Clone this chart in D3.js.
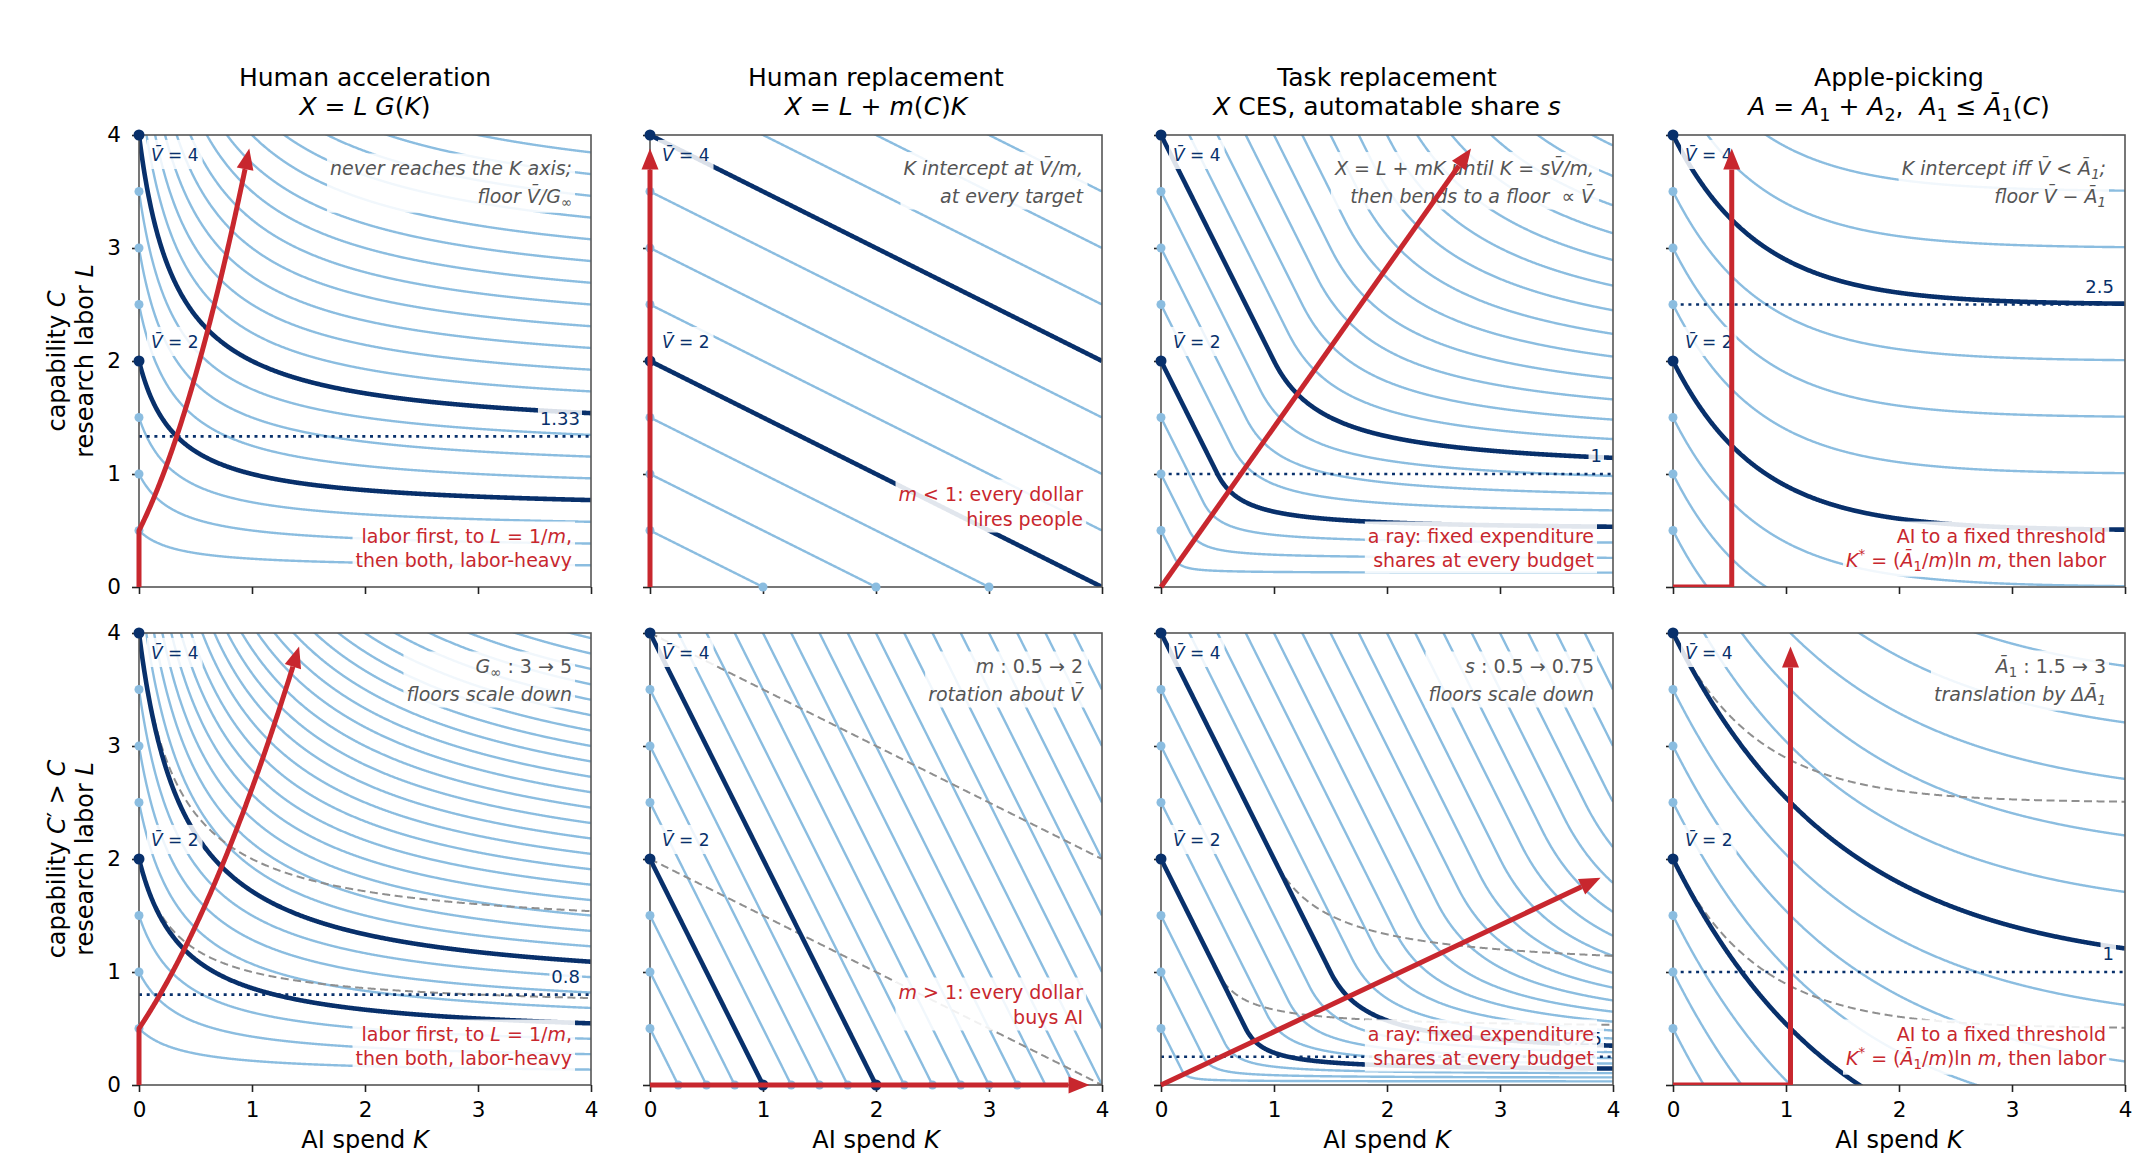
<!DOCTYPE html>
<html><head><meta charset="utf-8">
<script src="https://cdn.jsdelivr.net/npm/d3@7"></script>
<style>body{margin:0;background:#fff} text{font-family:"DejaVu Sans",sans-serif; white-space:pre}</style>
</head><body><svg id="fig" width="2142" height="1173"></svg>
<script>
// ---------------- data ----------------
const kTicks = [0, 1, 2, 3, 4];
const lTicks = [0, 1, 2, 3, 4];
const levels = [0.5,1,1.5,2,2.5,3,3.5,4,4.5,5,5.5,6,6.5,7,7.5,8,8.5,9,9.5,10,10.5,11,11.5,12,12.5,13,13.5,14,14.5,15,15.5,16];
const highlighted = [2, 4];
const axisDots = [0.5, 1, 1.5, 2, 2.5, 3, 3.5, 4];
// row 0 = capability C, row 1 = capability C' > C
const accelGinf = [3, 5];
const accelM = 2;
const replaceM = [0.5, 2];
const replaceKDots = [[1, 2, 3], [0.25,0.5,0.75,1,1.25,1.5,1.75,2,2.25,2.5,2.75,3,3.25]];
const taskS = [0.5, 0.75];
const taskM = 2;
const appleA1 = [1.5, 3];
const appleM = 2;
const floorValues = [[4/3, null, 1, 2.5], [0.8, null, 0.25, 1]];
const floorText = [["1.33", null, "1", "2.5"], ["0.8", null, "0.25", "1"]];
const arrowTipL = 3.88;
const arrowTipK = 3.89;

const VB = 'V\u0304', AB = '\u0100';
const panelTitles = ["Human acceleration", "Human replacement", "Task replacement", "Apple-picking"];
const panelFormulas = [
  [['X','i'],' = ',['L','i'],' ',['G','i'],'(',['K','i'],')'],
  [['X','i'],' = ',['L','i'],' + ',['m','i'],'(',['C','i'],')',['K','i']],
  [['X','i'],' CES, automatable share ',['s','i']],
  [['A','i'],' = ',['A','i'],['1','b'],' + ',['A','i'],['2','b'],',  ',['A','i'],['1','b'],' ≤ ',[AB,'i'],['1','b'],'(',['C','i'],')']
];
const yLabels = [
  [["capability ", ['C','i']], ["research labor ", ['L','i']]],
  [["capability ", ['C','i'], "′ > ", ['C','i']], ["research labor ", ['L','i']]]
];
const xLabel = ["AI spend ", ['K','i']];
const grayNotes = [
  [
    [["never reaches the K axis;"], ["floor " + VB + "/G", ['∞','b']]],
    [["K intercept at " + VB + "/m,"], ["at every target"]],
    [["X = L + mK until K = s" + VB + "/m,"], ["then bends to a floor  ∝ " + VB]],
    [["K intercept iff " + VB + " < " + AB, ['1','b'], ";"], ["floor " + VB + " − " + AB, ['1','b']]]
  ],
  [
    [["G", ['∞','b'], [" : 3 → 5",'n']], ["floors scale down"]],
    [["m", [" : 0.5 → 2",'n']], ["rotation about " + VB]],
    [["s", [" : 0.5 → 0.75",'n']], ["floors scale down"]],
    [[AB, ['1','bn'], [" : 1.5 → 3",'n']], ["translation by Δ" + AB, ['1','b']]]
  ]
];
const redNotes = [
  [
    [["labor first, to ", ['L','i'], " = 1/", ['m','i'], ","], ["then both, labor-heavy"]],
    [[['m','i'], " < 1: every dollar"], ["hires people"]],
    [["a ray: fixed expenditure"], ["shares at every budget"]],
    [["AI to a fixed threshold"], [['K','i'], ['*','p'], " = (", [AB,'i'], ['1','b'], "/", ['m','i'], ")ln ", ['m','i'], ", then labor"]]
  ],
  [
    [["labor first, to ", ['L','i'], " = 1/", ['m','i'], ","], ["then both, labor-heavy"]],
    [[['m','i'], " > 1: every dollar"], ["buys AI"]],
    [["a ray: fixed expenditure"], ["shares at every budget"]],
    [["AI to a fixed threshold"], [['K','i'], ['*','p'], " = (", [AB,'i'], ['1','b'], "/", ['m','i'], ")ln ", ['m','i'], ", then labor"]]
  ]
];

// ---------------- models ----------------
const Ks = d3.range(0, 4.0001, 0.005);
function accelG(r, K) { const Gi = accelGinf[r], a = (Gi - 1) / accelM; return 1 + (Gi - 1) * K / (K + a); }
function iso(c, r, V, K) {
  if (c === 0) return V / accelG(r, K);
  if (c === 1) return V - replaceM[r] * K;
  if (c === 2) {
    const s = taskS[r], m = taskM, Kk = s * V / m;
    if (K <= Kk) return V - m * K;
    return (1 - s) * (1 - s) / (1 / V - s * s / (m * K));
  }
  const A1 = appleA1[r];
  return V - A1 * (1 - Math.exp(-appleM * K / A1));
}
function expansionPath(c, r) {
  if (c === 0) {
    const Gi = accelGinf[r], a = (Gi - 1) / accelM;
    const f = K => (a + Gi * K) * (K + a) / ((Gi - 1) * a);
    const pts = [[0, 0]];
    let prev = null;
    for (const K of Ks) {
      const L = f(K);
      if (L >= arrowTipL) {
        const t = (arrowTipL - prev[1]) / (L - prev[1]);
        pts.push([prev[0] + t * (K - prev[0]), arrowTipL]);
        break;
      }
      pts.push([K, L]); prev = [K, L];
    }
    return pts;
  }
  if (c === 1) return replaceM[r] < 1 ? [[0, 0], [0, arrowTipL]] : [[0, 0], [arrowTipK, 0]];
  if (c === 2) {
    const s = taskS[r], slope = (1 - s) * Math.sqrt(taskM) / s;
    const Kt = Math.min(arrowTipK, arrowTipL / slope);
    return [[0, 0], [Kt, slope * Kt]];
  }
  const A1 = appleA1[r], Kstar = A1 / appleM * Math.log(appleM);
  return [[0, 0], [Kstar, 0], [Kstar, arrowTipL]];
}

// ---------------- drawing ----------------
const W = 2142, H = 1173;
const svg = d3.select('#fig');
svg.append('rect').attr('width', W).attr('height', H).attr('fill', '#fff');
const defs = svg.append('defs');
const colLeft = [139, 650, 1161, 1673];
const rowTop = [135, 633];
const size = 452;
const NAVY = '#08306b', LIGHT = '#8bbde0', RED = '#c8272e', GRAYT = '#555555', DASH = '#8f8f8f';
const FS_TITLE = 25, FS_LABEL = 24, FS_TICK = 21.5, FS_NOTE = 19, FS_LEVEL = 17, FS_FLOOR = 18;

function rich(parent, x, y, segs, o) {
  const t = parent.append('text').attr('x', x).attr('y', y)
    .attr('font-size', o.fs).attr('fill', o.fill).attr('text-anchor', o.anchor || 'start');
  if (o.italic) t.attr('font-style', 'italic');
  if (o.transform) t.attr('transform', o.transform);
  let shift = 0;
  segs.forEach(seg => {
    const [str, f] = Array.isArray(seg) ? [seg[0], seg[1] || ''] : [seg, ''];
    const ts = t.append('tspan').text(str);
    let target = 0, sz = o.fs;
    if (f.includes('b')) { target = 0.22 * o.fs; sz = 0.7 * o.fs; }
    if (f.includes('p')) { target = -0.4 * o.fs; sz = 0.7 * o.fs; }
    if (target !== shift) { ts.attr('dy', target - shift); shift = target; }
    if (sz !== o.fs) ts.attr('font-size', sz);
    if (f.includes('i')) ts.attr('font-style', 'italic');
    if (f.includes('n')) ts.attr('font-style', 'normal');
  });
  return t;
}
function boxed(parent, build, pad, op) {
  const g = parent.append('g');
  build(g);
  const bb = g.node().getBBox();
  g.insert('rect', ':first-child').attr('x', bb.x - pad).attr('y', bb.y - pad)
    .attr('width', bb.width + 2 * pad).attr('height', bb.height + 2 * pad)
    .attr('fill', '#fff').attr('fill-opacity', op);
  return g;
}
function drawArrow(parent, pts, x, y) {
  const px = pts.map(d => [x(d[0]), y(d[1])]);
  const tip = px[px.length - 1];
  const headLen = 21, halfW = 8.5;
  let remain = headLen, i = px.length - 1, base = tip;
  while (i > 0) {
    const a = px[i - 1], b = px[i];
    const seg = Math.hypot(b[0] - a[0], b[1] - a[1]);
    if (seg >= remain) { const t = remain / seg; base = [b[0] + (a[0] - b[0]) * t, b[1] + (a[1] - b[1]) * t]; break; }
    remain -= seg; i--;
  }
  const body = px.slice(0, i).concat([base]);
  parent.append('path').attr('d', d3.line()(body)).attr('fill', 'none')
    .attr('stroke', RED).attr('stroke-width', 5).attr('stroke-linejoin', 'round');
  const dx = tip[0] - base[0], dy = tip[1] - base[1], n = Math.hypot(dx, dy);
  const ux = dx / n, uy = dy / n;
  parent.append('polygon').attr('fill', RED).attr('points', [
    tip, [base[0] - uy * halfW, base[1] + ux * halfW], [base[0] + uy * halfW, base[1] - ux * halfW]
  ].map(p => p.join(',')).join(' '));
}

for (let r = 0; r < 2; r++) {
  for (let c = 0; c < 4; c++) {
    const left = colLeft[c], top = rowTop[r];
    const x = d3.scaleLinear().domain([0, 4]).range([left, left + size]);
    const y = d3.scaleLinear().domain([0, 4]).range([top + size, top]);
    const g = svg.append('g');
    const cid = `clip${r}${c}`;
    defs.append('clipPath').attr('id', cid).append('rect')
      .attr('x', left).attr('y', top).attr('width', size).attr('height', size);
    const cg = g.append('g').attr('clip-path', `url(#${cid})`);
    const line = d3.line().x(d => x(d[0])).y(d => y(d[1]));
    const curve = (V, rr) => {
      const ks = Ks.slice();
      if (c === 2) { ks.push(taskS[rr] * V / taskM); ks.sort((a, b) => a - b); }
      return ks.map(K => [K, iso(c, rr, V, K)]).filter(d => d[1] > -1 && d[1] < 6 && d[0] <= 4.0001);
    };
    levels.filter(V => !highlighted.includes(V)).forEach(V => {
      cg.append('path').attr('d', line(curve(V, r))).attr('fill', 'none')
        .attr('stroke', LIGHT).attr('stroke-width', 2.4);
    });
    if (r === 1) {
      highlighted.forEach(V => {
        cg.append('path').attr('d', line(curve(V, 0))).attr('fill', 'none')
          .attr('stroke', DASH).attr('stroke-width', 2).attr('stroke-dasharray', '8 4.5');
      });
    }
    highlighted.forEach(V => {
      cg.append('path').attr('d', line(curve(V, r))).attr('fill', 'none')
        .attr('stroke', NAVY).attr('stroke-width', 4.6);
    });
    const fv = floorValues[r][c];
    if (fv !== null) {
      cg.append('line').attr('x1', x(0)).attr('x2', x(4)).attr('y1', y(fv)).attr('y2', y(fv))
        .attr('stroke', NAVY).attr('stroke-width', 2.6).attr('stroke-dasharray', '3 4.7');
    }

    // frame and axes
    g.append('rect').attr('x', left).attr('y', top).attr('width', size).attr('height', size)
      .attr('fill', 'none').attr('stroke', '#555').attr('stroke-width', 1.6);
    const ax = g.append('g').attr('transform', `translate(0,${top + size})`)
      .call(d3.axisBottom(x).tickValues(kTicks).tickSize(7).tickPadding(9.5)
        .tickFormat(r === 1 ? d3.format('d') : () => ''));
    const ay = g.append('g').attr('transform', `translate(${left},0)`)
      .call(d3.axisLeft(y).tickValues(lTicks).tickSize(7).tickPadding(11)
        .tickFormat(c === 0 ? d3.format('d') : () => ''));
    [ax, ay].forEach(a => {
      a.select('.domain').remove();
      a.selectAll('line').attr('stroke', '#222').attr('stroke-width', 1.6);
      a.selectAll('text').attr('font-size', FS_TICK).attr('fill', '#000')
        .attr('font-family', '"DejaVu Sans", sans-serif');
    });

    // axis dots
    axisDots.forEach(V => {
      const hi = highlighted.includes(V);
      g.append('circle').attr('cx', x(0)).attr('cy', y(V)).attr('r', hi ? 5.5 : 4.5)
        .attr('fill', hi ? NAVY : LIGHT);
    });
    if (c === 1) {
      replaceKDots[r].forEach(K => {
        const hi = highlighted.includes(K * replaceM[r]);
        g.append('circle').attr('cx', x(K)).attr('cy', y(0)).attr('r', hi ? 5.5 : 4.5)
          .attr('fill', hi ? NAVY : LIGHT);
      });
    }

    // level labels
    [[4, top + 20], [2, top + 207]].forEach(([V, cy]) => {
      boxed(g, gg => rich(gg, left + 12, cy + 6, [[VB, 'i'], ' = ' + V], { fs: FS_LEVEL, fill: NAVY }), 4, 0.85);
    });

    // floor label
    if (fv !== null) {
      boxed(g, gg => rich(gg, left + 441, y(fv + 0.16) + 6.5, [floorText[r][c]], { fs: FS_FLOOR, fill: NAVY, anchor: 'end' }), 2, 0.85);
    }

    // gray note
    boxed(g, gg => {
      rich(gg, left + size - 19, top + 33 + 6.5, grayNotes[r][c][0], { fs: FS_NOTE, fill: GRAYT, anchor: 'end', italic: true });
      rich(gg, left + size - 19, top + 61 + 6.5, grayNotes[r][c][1], { fs: FS_NOTE, fill: GRAYT, anchor: 'end', italic: true });
    }, 3, 0.88);

    // red note
    const ry = c === 1 ? [359, 384] : [401, 425];
    boxed(g, gg => {
      rich(gg, left + size - 19, top + ry[0] + 6.5, redNotes[r][c][0], { fs: FS_NOTE, fill: RED, anchor: 'end' });
      rich(gg, left + size - 19, top + ry[1] + 6.5, redNotes[r][c][1], { fs: FS_NOTE, fill: RED, anchor: 'end' });
    }, 3, 0.88);

    // expansion path arrow
    const arrowParent = c === 3 ? g.append('g').attr('clip-path', `url(#${cid})`) : g;
    drawArrow(arrowParent, expansionPath(c, r), x, y);

    // titles and axis labels
    if (r === 0) {
      rich(svg, left + size / 2, 86, [panelTitles[c]], { fs: FS_TITLE, fill: '#000', anchor: 'middle' });
      rich(svg, left + size / 2, 115, panelFormulas[c], { fs: FS_TITLE, fill: '#000', anchor: 'middle' });
    }
    if (r === 1) {
      rich(svg, left + size / 2, 1148, xLabel, { fs: FS_LABEL, fill: '#000', anchor: 'middle' });
    }
    if (c === 0) {
      const cy = top + size / 2;
      rich(svg, 0, 0, yLabels[r][0], { fs: FS_LABEL, fill: '#000', anchor: 'middle', transform: `translate(65,${cy}) rotate(-90)` });
      rich(svg, 0, 0, yLabels[r][1], { fs: FS_LABEL, fill: '#000', anchor: 'middle', transform: `translate(93,${cy}) rotate(-90)` });
    }
  }
}
</script></body></html>
